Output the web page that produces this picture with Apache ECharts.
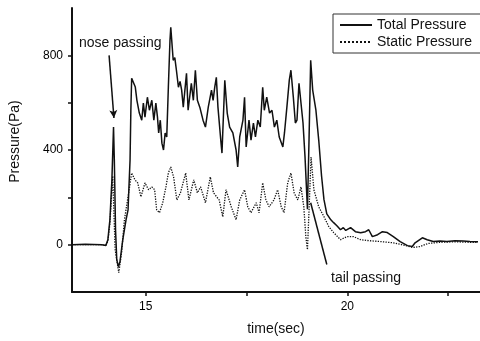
<!DOCTYPE html>
<html>
<head>
<meta charset="utf-8">
<script src="https://cdn.jsdelivr.net/npm/echarts@6/dist/echarts.min.js"></script>
<style>
  html, body { margin: 0; padding: 0; background: #fff; }
  #chart { width: 480px; height: 341px; }
</style>
</head>
<body>
<div id="chart"></div>
<script>
// values (time in sec, pressure in Pa)
const totalTime = [13.17, 13.50, 13.91, 14.01, 14.06, 14.11, 14.16, 14.20, 14.22, 14.25, 14.28, 14.32, 14.36, 14.43,
  14.51, 14.56, 14.58, 14.61, 14.63, 14.65, 14.74, 14.78, 14.84, 14.90, 14.94, 14.98, 15.04, 15.09, 15.15, 15.20,
  15.25, 15.29, 15.32, 15.36, 15.40, 15.44, 15.48, 15.52, 15.56, 15.60, 15.62, 15.68, 15.72, 15.76, 15.81, 15.85,
  15.89, 15.93, 16.01, 16.05, 16.13, 16.18, 16.23, 16.28, 16.34, 16.42, 16.48, 16.55, 16.63, 16.67, 16.71, 16.75,
  16.79, 16.86, 16.89, 16.96, 17.02, 17.08, 17.16, 17.24, 17.28, 17.33, 17.41, 17.45, 17.49, 17.56, 17.61, 17.67,
  17.72, 17.78, 17.84, 17.90, 17.94, 18.00, 18.07, 18.13, 18.19, 18.25, 18.31, 18.40, 18.44, 18.50, 18.56, 18.60,
  18.66, 18.71, 18.75, 18.80, 18.90, 18.95, 19.01, 19.05, 19.09, 19.14, 19.22, 19.29,
  19.36, 19.42, 19.49, 19.59, 19.66, 19.74, 19.83, 19.90, 19.96, 20.08, 20.20, 20.33, 20.45, 20.53, 20.62, 20.75,
  20.87, 20.99, 21.14, 21.31, 21.49, 21.61, 21.68, 21.86, 21.98, 22.13, 22.30, 22.47, 22.67, 22.87, 23.04, 23.24];
const totalValue = [0, 2, 0, -4, 21, 105, 274, 497, 358, 63, -63, -93, -72, 21,
  105, 147, 232, 358, 568, 703, 666, 610, 556, 526, 598, 539, 623, 568, 610, 526,
  598, 539, 472, 526, 429, 400, 472, 455, 665, 863, 918, 779, 790, 737, 665, 690,
  653, 581, 724, 568, 682, 610, 737, 610, 581, 526, 497, 581, 653, 610, 665, 707,
  581, 442, 387, 695, 556, 497, 472, 400, 328, 455, 526, 623, 413, 526, 442, 514,
  455, 526, 497, 665, 568, 623, 556, 568, 497, 526, 455, 413, 472, 581, 695, 737,
  623, 514, 526, 682, 514, 370, 150, 450, 779, 653, 568, 442,
  290, 190, 130, 105, 93, 80, 63, 72, 60, 72, 55, 50, 55, 63, 34, 42,
  55, 51, 34, 13, -4, -8, 8, 29, 21, 13, 15, 13, 17, 15, 13, 12];

const staticTime = [13.17, 13.91, 14.01, 14.06, 14.11, 14.18, 14.24, 14.33, 14.40, 14.47, 14.56, 14.65, 14.73, 14.80,
  14.88, 14.98, 15.07, 15.15, 15.22, 15.27, 15.34, 15.42, 15.50, 15.56, 15.62, 15.69, 15.77, 15.86, 15.99, 16.07,
  16.19, 16.28, 16.36, 16.48, 16.60, 16.68, 16.82, 16.91, 16.99, 17.12, 17.24, 17.33, 17.45, 17.53, 17.61, 17.74,
  17.81, 17.90, 17.98, 18.06, 18.18, 18.27, 18.36, 18.43, 18.52, 18.60, 18.68, 18.77, 18.85, 18.92, 18.97, 19.01,
  19.05, 19.10, 19.17, 19.29, 19.42, 19.54, 19.66, 19.83, 19.99, 20.15, 20.33, 20.53, 20.83, 21.14, 21.45, 21.62,
  21.80, 22.00, 22.30, 22.67, 23.04, 23.24];
const staticValue = [0, 0, -2, 15, 90, 290, -21, -118, -34, 105, 202, 303, 274, 261,
  202, 261, 232, 244, 232, 147, 135, 177, 244, 303, 328, 286, 189, 219, 303, 189,
  274, 219, 244, 177, 286, 219, 189, 118, 232, 160, 105, 189, 232, 160, 135, 177,
  135, 261, 189, 160, 189, 232, 160, 135, 261, 303, 219, 189, 244, 160, 34, -21,
  147, 370, 232, 160, 118, 76, 51, 21, 34, 34, 21, 17, 13, 8, -4, -12,
  -8, 5, 10, 12, 10, 10];

const seriesNames = ['Total Pressure', 'Static Pressure'];
const xTicks = [15, 17.5, 20, 22.5];
const xLabels = [15, 20];
const yTicks = [0, 200, 400, 600, 800];
const yLabels = [0, 400, 800];

// annotation arrows: [start, end] in data units
const noseArrow = [[14.09, 800], [14.21, 535]];
const tailArrow = [[19.09, 177], [19.49, -84]];

const font = '"Liberation Sans", Arial, Helvetica, sans-serif';
const ink = '#111';

function pairs(xs, ys) {
  return xs.map((x, i) => [x, ys[i]]);
}

let chart = echarts.init(document.getElementById('chart'), null, { renderer: 'canvas' });

let options = {
  animation: false,
  backgroundColor: '#fff',
  textStyle: { fontFamily: font, color: ink },
  grid: { left: 70, right: 0, top: 8, bottom: 48, containLabel: false },
  legend: {
    orient: 'vertical',
    left: 333,
    top: 14,
    padding: [4, 16, 4, 6],
    itemGap: 3,
    itemWidth: 32,
    itemHeight: 14,
    borderColor: '#333',
    borderWidth: 1,
    itemStyle: { opacity: 0 },
    data: seriesNames,
    textStyle: { fontFamily: font, fontSize: 14, color: ink }
  },
  xAxis: {
    type: 'value',
    min: 13.17,
    max: 23.29,
    name: 'time(sec)',
    nameLocation: 'middle',
    nameGap: 30,
    nameTextStyle: { fontFamily: font, fontSize: 14, color: ink },
    axisLine: { show: true, onZero: false, lineStyle: { color: ink, width: 2 } },
    axisTick: { show: true, inside: false, length: 4, customValues: xTicks, lineStyle: { color: ink, width: 1.5 } },
    axisLabel: { customValues: xLabels, margin: 9, fontSize: 12, color: '#000', fontFamily: font },
    splitLine: { show: false }
  },
  yAxis: {
    type: 'value',
    min: -200,
    max: 1000,
    name: 'Pressure(Pa)',
    nameLocation: 'middle',
    nameGap: 50,
    nameRotate: 90,
    nameTextStyle: { fontFamily: font, fontSize: 14, color: ink, padding: [0, 0, 0, 17] },
    axisLine: { show: true, onZero: false, lineStyle: { color: ink, width: 2 } },
    axisTick: { show: true, inside: false, length: 4, customValues: yTicks, lineStyle: { color: ink, width: 1.5 } },
    axisLabel: { customValues: yLabels, margin: 9, fontSize: 12, color: '#000', fontFamily: font },
    splitLine: { show: false }
  },
  series: [{
    name: seriesNames[0],
    type: 'line',
    data: pairs(totalTime, totalValue),
    symbol: 'none',
    showSymbol: false,
    color: ink,
    lineStyle: { color: ink, width: 1.5, type: 'solid' },
    markLine: {
      silent: true,
      symbol: ['none', 'arrow'],
      symbolSize: [6, 8],
      label: { show: false },
      lineStyle: { color: ink, width: 1.5, type: 'solid' },
      data: [
        [{ coord: noseArrow[0] }, { coord: noseArrow[1] }],
        [{ coord: tailArrow[0], symbol: 'none' }, { coord: tailArrow[1], symbol: 'none' }]
      ]
    }
  }, {
    name: seriesNames[1],
    type: 'line',
    data: pairs(staticTime, staticValue),
    symbol: 'none',
    showSymbol: false,
    color: ink,
    lineStyle: { color: ink, width: 1.3, type: 'dotted' }
  }],
  graphic: [{
    type: 'text',
    left: 79,
    top: 36,
    style: { text: 'nose passing', font: '14px ' + font, fill: ink }
  }, {
    type: 'text',
    left: 331,
    top: 271,
    style: { text: 'tail passing', font: '14px ' + font, fill: ink }
  }]
};

chart.setOption(options);

window.addEventListener('resize', function() {
  chart.resize();
});
</script>
</body>
</html>
